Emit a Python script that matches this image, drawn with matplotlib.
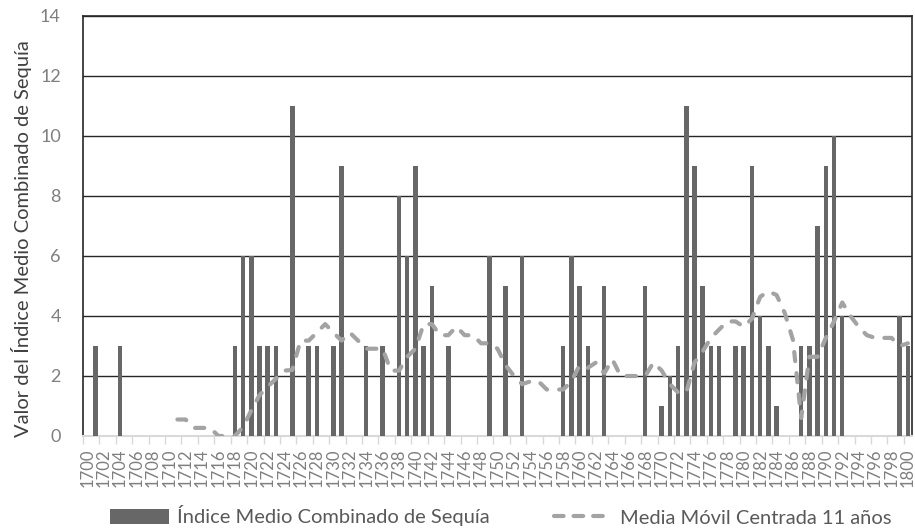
import numpy as np
import matplotlib
matplotlib.use("Agg")
import matplotlib.pyplot as plt
from matplotlib.patches import Patch
from matplotlib.lines import Line2D

plt.rcParams["font.family"] = ["Lato", "DejaVu Sans"]

ANIOS = list(range(1700, 1801))

# Índice medio combinado de sequía, un valor por año (1700-1800)
INDICE = [
    0, 3, 0, 0, 3, 0, 0, 0, 0, 0,      # 1700-1709
    0, 0, 0, 0, 0, 0, 0, 0, 3, 6,      # 1710-1719
    6, 3, 3, 3, 0, 11, 0, 3, 3, 0,     # 1720-1729
    3, 9, 0, 0, 3, 0, 3, 0, 8, 6,      # 1730-1739
    9, 3, 5, 0, 3, 0, 0, 0, 0, 6,      # 1740-1749
    0, 5, 0, 6, 0, 0, 0, 0, 3, 6,      # 1750-1759
    5, 3, 0, 5, 0, 0, 0, 0, 5, 0,      # 1760-1769
    1, 2, 3, 11, 9, 5, 3, 3, 0, 3,     # 1770-1779
    3, 9, 4, 3, 1, 0, 0, 3, 3, 7,      # 1780-1789
    9, 10, 4, 0, 0, 0, 0, 0, 0, 4,     # 1790-1799
    3,                                  # 1800
]

# Media móvil centrada de 11 años (empieza en 1711)
MEDIA_INICIO = 1711
MEDIA = [
    0.55, 0.55, 0.27, 0.27, 0.27, 0.00, 0.00, 0.00, 0.30, 0.85,   # 1711-1720
    1.36, 1.64, 1.91, 2.18, 2.20, 3.18, 3.18, 3.45, 3.73, 3.45,   # 1721-1730
    3.18, 3.45, 3.18, 2.91, 2.91, 2.91, 2.18, 2.18, 2.64, 2.91,   # 1731-1740
    3.73, 3.73, 3.36, 3.36, 3.64, 3.36, 3.36, 3.09, 3.09, 2.91,   # 1741-1750
    2.36, 2.00, 1.73, 1.82, 1.82, 1.55, 1.55, 1.55, 1.82, 2.36,   # 1751-1760
    2.27, 2.45, 2.09, 2.55, 2.00, 2.00, 2.00, 2.00, 2.45, 2.18,   # 1761-1770
    1.73, 1.45, 1.45, 2.45, 2.82, 3.27, 3.55, 3.82, 3.82, 3.64,   # 1771-1780
    3.91, 4.64, 4.82, 4.70, 4.10, 3.20, 0.60, 2.64, 2.64, 3.27,   # 1781-1790
    3.82, 4.45, 4.00, 3.64, 3.36, 3.27, 3.27, 3.27, 3.00, 3.09,   # 1791-1800
]

COLOR_BARRA = "#676767"
COLOR_MEDIA = "#a3a3a3"
COLOR_TEXTO = "#595959"
COLOR_EJE_TXT = "#7f7f7f"

fig = plt.figure(figsize=(9.15, 5.31), dpi=100)
ax = fig.add_axes([83 / 915, 1 - 436 / 531, 829 / 915, 420 / 531])

x = np.arange(len(ANIOS))
ax.bar(x, INDICE, width=0.55, color=COLOR_BARRA, zorder=3)

x_media = np.arange(len(MEDIA)) + (MEDIA_INICIO - ANIOS[0])
ax.plot(x_media, MEDIA, color=COLOR_MEDIA, linewidth=3.0,
        linestyle=(0, (2.2, 2.9)), dash_capstyle="round",
        solid_capstyle="round", zorder=4)

ax.set_xlim(-0.5, len(ANIOS) - 0.5)
ax.set_ylim(0, 14)
ax.set_yticks(range(0, 15, 2))
ax.yaxis.grid(True, color="#262626", linewidth=1.0, zorder=0)
ax.set_axisbelow(True)

ax.set_xticks(x[::2])
ax.set_xticklabels([str(a) for a in ANIOS[::2]], rotation=90)
ax.set_xticks(x[::2] - 0.5, minor=True)
ax.tick_params(axis="x", which="major", length=0, pad=9,
               labelsize=12, labelcolor=COLOR_EJE_TXT)
ax.tick_params(axis="x", which="minor", length=6, width=1.0, color="#d9d9d9")
ax.tick_params(axis="y", length=0, pad=16, labelsize=13, labelcolor=COLOR_EJE_TXT)

for lado in ["left", "right", "top"]:
    ax.spines[lado].set_color("#262626")
    ax.spines[lado].set_linewidth(1.2)
ax.spines["bottom"].set_color("#d9d9d9")
ax.spines["bottom"].set_linewidth(1.5)

ax.set_ylabel("Valor del Índice Medio Combinado de Sequía",
              fontsize=14.5, color="#404040", labelpad=6, y=0.47)

handles = [
    Patch(facecolor=COLOR_BARRA, edgecolor="none"),
    Line2D([0], [0], color=COLOR_MEDIA, linewidth=3.0,
           linestyle=(0, (2.3, 2.4)), dash_capstyle="round"),
]
fig.legend(handles,
           ["Índice Medio Combinado de Sequía", "Media Móvil Centrada 11 años"],
           loc="center", bbox_to_anchor=(501 / 915, 1 - 516 / 531), ncol=2,
           frameon=False, fontsize=14.5, labelcolor=COLOR_TEXTO,
           handlelength=2.9, handleheight=0.75, handletextpad=0.4,
           columnspacing=3.2, borderpad=0)

fig.savefig("out.png", dpi=100)
